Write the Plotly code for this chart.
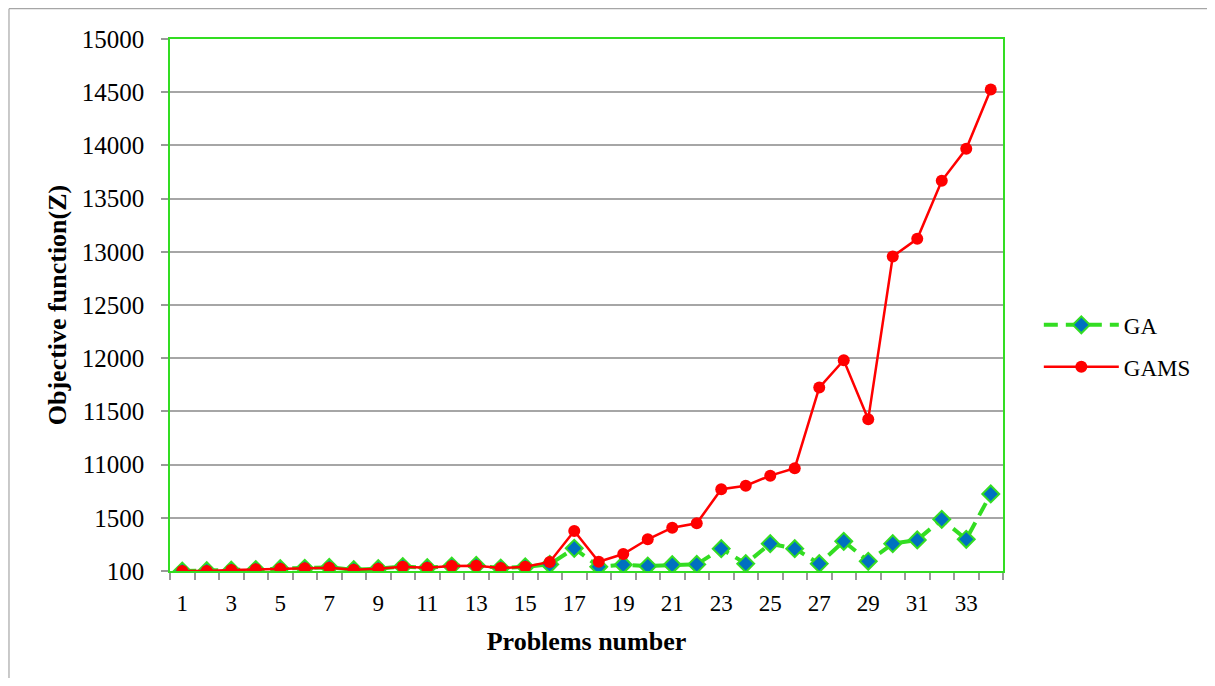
import plotly.graph_objects as go

problems = list(range(1, 35))

ga = [10000, 10003, 10008, 10014, 10022, 10025, 10034, 10012, 10022, 10042,
      10031, 10047, 10052, 10028, 10040, 10062, 10213, 10040, 10059, 10047,
      10059, 10062, 10210, 10069, 10257, 10210, 10069, 10279, 10091, 10257,
      10292, 10486, 10298, 10724]

gams = [10000, 10000, 10009, 10016, 10022, 10025, 10031, 10012, 10022, 10040,
        10031, 10047, 10050, 10028, 10040, 10085, 10376, 10087, 10160, 10298,
        10407, 10448, 10768, 10802, 10896, 10966, 11724, 11981, 11427, 12956,
        13122, 13667, 13968, 14526]

y_tickvals = [10000, 10500, 11000, 11500, 12000, 12500, 13000, 13500, 14000, 14500, 15000]
y_ticktext = ["100", "1500", "11000", "11500", "12000", "12500", "13000", "13500", "14000", "14500", "15000"]
x_ticklabels = [1, 3, 5, 7, 9, 11, 13, 15, 17, 19, 21, 23, 25, 27, 29, 31, 33]

FONT = "Liberation Serif"
GREEN = "#33dd22"
FRAME = "#a6a6a6"

fig = go.Figure()
fig.add_trace(go.Scatter(
    x=problems, y=ga, name="GA", mode="lines+markers", legendgroup="ga",
    line=dict(color=GREEN, width=4, dash="14px,8px"),
    marker=dict(symbol="diamond", size=13, color="#0070c0", line=dict(color=GREEN, width=2)),
))
fig.add_trace(go.Scatter(
    x=problems, y=gams, name="GAMS", mode="lines+markers", legendgroup="gams",
    line=dict(color="#ff0000", width=2.5),
    marker=dict(symbol="circle", size=12, color="#ff0000"),
))

fig.update_layout(
    width=1199, height=670,
    margin=dict(l=162, r=204, t=31, b=107, autoexpand=False),
    paper_bgcolor="white", plot_bgcolor="white",
    font=dict(family=FONT, size=23, color="black"),
    showlegend=True,
    legend=dict(x=1.043, y=0.503, xanchor="left", yanchor="top",
                font=dict(family=FONT, size=23, color="black"),
                bgcolor="rgba(0,0,0,0)", traceorder="grouped", tracegroupgap=9, itemwidth=75),
    xaxis=dict(
        range=[0.5, 34.5], tickmode="array", tickvals=x_ticklabels,
        ticktext=[str(v) for v in x_ticklabels], ticks="", ticklen=0,
        ticklabelstandoff=11, automargin=False,
        showgrid=False, zeroline=False,
        showline=True, linecolor=GREEN, linewidth=1.5, mirror=True,
        tickfont=dict(family=FONT, size=23, color="black"),
        minor=dict(tickmode="array", tickvals=[i + 0.5 for i in range(0, 35)],
                   ticks="outside", ticklen=7, tickcolor="#999999", tickwidth=1.5, showgrid=False),
        title=dict(text="<b>Problems number</b>", font=dict(family=FONT, size=26, color="black"), standoff=16),
    ),
    yaxis=dict(
        range=[10000, 15000], tickmode="array", tickvals=y_tickvals, ticktext=y_ticktext,
        ticks="outside", ticklen=7, tickcolor="#999999", tickwidth=1.5,
        ticklabelstandoff=12, automargin=False,
        showgrid=True, gridcolor="#a6a6a6", gridwidth=1.5, zeroline=False,
        showline=True, linecolor=GREEN, linewidth=1.5, mirror=True,
        tickfont=dict(family=FONT, size=25, color="black"),
        title=dict(text="<b>Objective function(Z)</b>", font=dict(family=FONT, size=26, color="black"), standoff=8),
    ),
    shapes=[
        dict(type="line", xref="paper", yref="paper", x0=-0.1933, x1=1.3, y0=1.057, y1=1.057,
             line=dict(color=FRAME, width=1.2), layer="below"),
        dict(type="line", xref="paper", yref="paper", x0=-0.1933, x1=-0.1933, y0=-0.3, y1=1.057,
             line=dict(color=FRAME, width=1.2), layer="below"),
    ],
)

fig.write_html("out.html")
